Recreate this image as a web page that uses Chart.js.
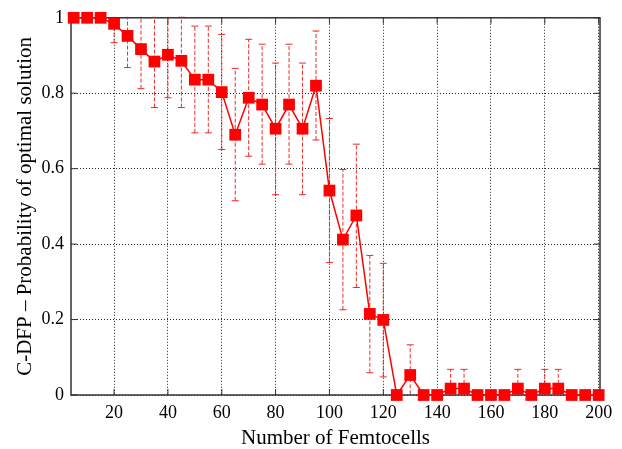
<!DOCTYPE html>
<html>
<head>
<meta charset="utf-8">
<script src="https://cdn.jsdelivr.net/npm/chart.js@4/dist/chart.umd.min.js"></script>
<style>
    html, body { margin: 0; padding: 0; background: #fff; }
    #wrap { width: 622px; height: 449px; }
</style>
</head>
<body>
<div id="wrap"><canvas id="probChart" width="622" height="449"></canvas></div>
<script>
// number of femtocells (x)
const femtocells = [5, 10, 15, 20, 25, 30, 35, 40, 45, 50, 55, 60, 65, 70, 75, 80, 85, 90, 95, 100,
    105, 110, 115, 120, 125, 130, 135, 140, 145, 150, 155, 160, 165, 170, 175, 180, 185, 190, 195, 200];

// mean probability of optimal solution
const probMean = [1.0, 1.0, 1.0, 0.984, 0.952, 0.917, 0.884, 0.902, 0.886, 0.836, 0.836, 0.803, 0.690, 0.788, 0.770, 0.706, 0.770, 0.706, 0.820, 0.542,
    0.412, 0.476, 0.215, 0.199, 0, 0.053, 0, 0, 0.017, 0.017, 0, 0, 0, 0.017, 0, 0.017, 0.017, 0, 0, 0];

// error bar ends
const errLow = [1.0, 1.0, 1.0, 0.934, 0.868, 0.812, 0.762, 0.788, 0.762, 0.695, 0.695, 0.651, 0.515, 0.633, 0.612, 0.531, 0.612, 0.531, 0.676, 0.351,
    0.226, 0.285, 0.059, 0.048, 0, -0.03, 0, 0, -0.034, -0.034, 0, 0, 0, -0.034, 0, -0.034, -0.034, 0, 0, 0];
const errHigh = [1.0, 1.0, 1.0, 1.034, 1.036, 1.022, 1.002, 1.016, 1.004, 0.978, 0.978, 0.956, 0.866, 0.943, 0.930, 0.880, 0.930, 0.880, 0.965, 0.733,
    0.598, 0.665, 0.370, 0.349, 0, 0.133, 0, 0, 0.068, 0.068, 0, 0, 0, 0.068, 0, 0.068, 0.068, 0, 0, 0];

const xTicks = [20, 40, 60, 80, 100, 120, 140, 160, 180, 200];
const yTicks = [0, 0.2, 0.4, 0.6, 0.8, 1];

const RED = 'rgb(255, 0, 0)';
const FONT = '"Liberation Serif", "DejaVu Serif", serif';

// dashed error bars with caps, clipped to the plot box
const errorBars = {
    id: 'errorBars',
    beforeDatasetsDraw(chart) {
        const ctx = chart.ctx;
        const area = chart.chartArea;
        const xs = chart.scales.x;
        const ys = chart.scales.y;
        ctx.save();
        ctx.beginPath();
        ctx.rect(area.left - 5, area.top - 1, area.right - area.left + 10, area.bottom - area.top + 2);
        ctx.clip();
        ctx.strokeStyle = 'rgba(235, 20, 20, 0.9)';
        ctx.lineWidth = 1;
        for (let i = 0; i < femtocells.length; i++) {
            if (errLow[i] === errHigh[i]) continue;
            const x = xs.getPixelForValue(femtocells[i]);
            const y1 = ys.getPixelForValue(errLow[i]);
            const y2 = ys.getPixelForValue(errHigh[i]);
            ctx.setLineDash([4, 2]);
            ctx.beginPath();
            ctx.moveTo(x, y1);
            ctx.lineTo(x, y2);
            ctx.stroke();
            ctx.setLineDash([]);
            ctx.beginPath();
            ctx.moveTo(x - 3.5, y1); ctx.lineTo(x + 3.5, y1);
            ctx.moveTo(x - 3.5, y2); ctx.lineTo(x + 3.5, y2);
            ctx.stroke();
        }
        ctx.restore();
    }
};

// gnuplot style frame with inward tick marks
const frameBox = {
    id: 'frameBox',
    beforeDatasetsDraw(chart) {
        const ctx = chart.ctx;
        const a = chart.chartArea;
        ctx.save();
        ctx.strokeStyle = '#333';
        ctx.lineWidth = 1.5;
        ctx.strokeRect(a.left, a.top, a.right - a.left, a.bottom - a.top);
        ctx.lineWidth = 1;
        ctx.beginPath();
        chart.scales.y.ticks.forEach(t => {
            const y = chart.scales.y.getPixelForValue(t.value);
            ctx.moveTo(a.left, y); ctx.lineTo(a.left + 6, y);
            ctx.moveTo(a.right, y); ctx.lineTo(a.right - 6, y);
        });
        chart.scales.x.ticks.forEach(t => {
            const x = chart.scales.x.getPixelForValue(t.value);
            ctx.moveTo(x, a.bottom); ctx.lineTo(x, a.bottom - 6);
            ctx.moveTo(x, a.top); ctx.lineTo(x, a.top + 6);
        });
        ctx.stroke();
        ctx.restore();
    }
};

function createProbChart() {
    const ctx = document.getElementById('probChart').getContext('2d');

    new Chart(ctx, {
        type: 'line',
        data: {
            datasets: [{
                label: 'C-DFP',
                data: femtocells.map((x, i) => ({ x: x, y: probMean[i] })),
                borderColor: RED,
                backgroundColor: RED,
                borderWidth: 1.5,
                pointStyle: 'rect',
                pointRadius: 8.3,
                pointBorderWidth: 0,
                pointBackgroundColor: RED,
                tension: 0,
                clip: false
            }]
        },
        options: {
            responsive: false,
            animation: false,
            events: [],
            layout: { padding: { top: 14, right: 22, left: 0, bottom: 0 } },
            plugins: {
                legend: { display: false },
                tooltip: { enabled: false }
            },
            scales: {
                x: {
                    type: 'linear',
                    min: 4,
                    max: 200.5,
                    afterBuildTicks: scale => { scale.ticks = xTicks.map(v => ({ value: v })); },
                    afterFit: scale => { scale.height = 54; },
                    grid: { color: '#222', lineWidth: 1, drawTicks: false },
                    border: { display: false, dash: [1, 2] },
                    ticks: {
                        color: '#000',
                        font: { family: FONT, size: 18 },
                        padding: 7,
                        maxRotation: 0,
                        callback: v => String(v)
                    },
                    title: {
                        display: true,
                        text: 'Number of Femtocells',
                        color: '#000',
                        font: { family: FONT, size: 21 },
                        padding: { top: 0, bottom: -2 }
                    }
                },
                y: {
                    min: 0,
                    max: 1,
                    afterBuildTicks: scale => { scale.ticks = yTicks.map(v => ({ value: v })); },
                    afterFit: scale => { scale.width = 71; },
                    grid: { color: '#222', lineWidth: 1, drawTicks: false },
                    border: { display: false, dash: [1, 2] },
                    ticks: {
                        color: '#000',
                        font: { family: FONT, size: 18 },
                        padding: 7,
                        callback: v => String(v)
                    },
                    title: {
                        display: true,
                        text: 'C-DFP – Probability of optimal solution',
                        color: '#000',
                        font: { family: FONT, size: 21 },
                        padding: { top: 13, bottom: 0 }
                    }
                }
            }
        },
        plugins: [frameBox, errorBars]
    });
}

document.addEventListener('DOMContentLoaded', createProbChart);
</script>
</body>
</html>
